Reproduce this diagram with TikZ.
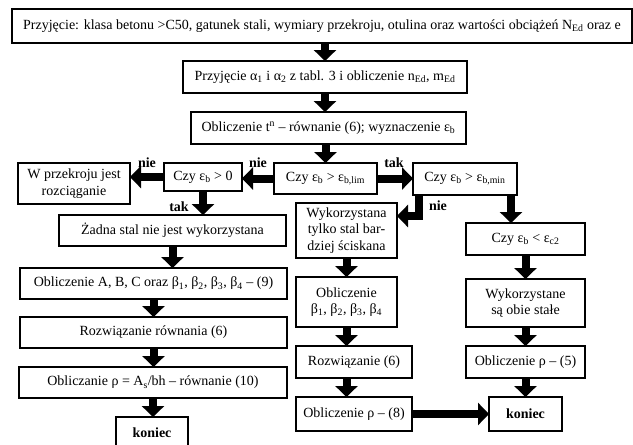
\documentclass[tikz,border=0pt]{standalone}
\usepackage{fontspec}
\setmainfont{Liberation Serif}
\usetikzlibrary{arrows.meta}
\tikzset{
  box/.style={draw, line width=1.7pt, inner sep=0pt, outer sep=0pt, align=center,
    font=\fontsize{14}{16.5}\selectfont},
  arr/.style={line width=8pt, line join=miter, -{Triangle[width=22pt,length=11pt]}},
  lbl/.style={font=\fontsize{14}{16.5}\selectfont\bfseries, inner sep=0pt}
}
\begin{document}
\begin{tikzpicture}[x=1pt,y=-1pt]
\useasboundingbox (0,0) rectangle (633,445);
% boxes
\node[box, minimum width=620pt, minimum height=34pt] (top) at (322,26)
  {Przyjęcie: klasa betonu >C50, gatunek stali, wymiary przekroju, otulina oraz wartości obciążeń N\textsubscript{Ed} oraz e};
\node[box, minimum width=284pt, minimum height=32pt] (b2) at (325,77)
  {Przyjęcie α\textsubscript{1} i α\textsubscript{2} z tabl. 3 i obliczenie n\textsubscript{Ed}, m\textsubscript{Ed}};
\node[box, minimum width=275pt, minimum height=32pt] (b3) at (328.5,128)
  {Obliczenie t\textsuperscript{n} – równanie (6); wyznaczenie ε\textsubscript{b}};
\node[box, minimum width=103pt, minimum height=31pt] (lim) at (325.5,178.5)
  {Czy ε\textsubscript{b} > ε\textsubscript{b,lim}};
\node[box, minimum width=78pt, minimum height=28pt] (gt0) at (203,177)
  {Czy ε\textsubscript{b} > 0};
\node[box, minimum width=112pt, minimum height=41pt] (rozc) at (74,183.5)
  {W przekroju jest\\rozciąganie};
\node[box, minimum width=104pt, minimum height=32pt] (min) at (465,179)
  {Czy ε\textsubscript{b} > ε\textsubscript{b,min}};
\node[box, minimum width=227pt, minimum height=31pt] (zadna) at (172.5,230.5)
  {Żadna stal nie jest wykorzystana};
\node[box, minimum width=267pt, minimum height=31pt] (abc) at (153.5,283.5)
  {Obliczenie A, B, C oraz β\textsubscript{1}, β\textsubscript{2}, β\textsubscript{3}, β\textsubscript{4} – (9)};
\node[box, minimum width=267pt, minimum height=31pt] (rozw) at (153.5,332.5)
  {Rozwiązanie równania (6)};
\node[box, minimum width=268pt, minimum height=31pt] (obl10) at (153,382.5)
  {Obliczanie ρ = A\textsubscript{s}/bh – równanie (10)};
\node[box, minimum width=72pt, minimum height=31pt] (kon1) at (152,432.5)
  {\bfseries koniec};
\node[box, minimum width=101pt, minimum height=55pt] (wyk) at (346.5,230.5)
  {Wykorzystana\\tylko stal bar-\\dziej ściskana};
\node[box, minimum width=101pt, minimum height=50pt] (beta) at (346.5,302)
  {Obliczenie\\β\textsubscript{1}, β\textsubscript{2}, β\textsubscript{3}, β\textsubscript{4}};
\node[box, minimum width=116pt, minimum height=32pt] (r6) at (354,362)
  {Rozwiązanie (6)};
\node[box, minimum width=116pt, minimum height=34pt] (r8) at (354,414)
  {Obliczenie ρ – (8)};
\node[box, minimum width=73pt, minimum height=34pt] (kon2) at (525.5,414)
  {\bfseries koniec};
\node[box, minimum width=119pt, minimum height=32pt] (ec2) at (525.5,239)
  {Czy ε\textsubscript{b} < ε\textsubscript{c2}};
\node[box, minimum width=119pt, minimum height=48pt] (obie) at (525.5,303)
  {Wykorzystane\\są obie stałe};
\node[box, minimum width=119pt, minimum height=32pt] (r5) at (525.5,362)
  {Obliczenie ρ – (5)};
% helper coordinates
\coordinate (bend) at (419,216);
\coordinate (m2) at (511,0);
% arrows
\draw[arr] (top.south -| b2.north) -- (b2.north);
\draw[arr] (b2.south) -- (b2.south |- b3.north);
\draw[arr] (b3.south -| lim.north) -- (lim.north);
\draw[arr] (lim.west) -- (lim.west -| gt0.east);
\draw[arr] (gt0.west) -- (gt0.west -| rozc.east);
\draw[arr] (lim.east) -- (lim.east -| min.west);
\draw[arr] (gt0.south) -- (gt0.south |- zadna.north);
\draw[arr] (zadna.south) -- (zadna.south |- abc.north);
\draw[arr] (abc.south) -- (rozw.north);
\draw[arr] (rozw.south) -- (rozw.south |- obl10.north);
\draw[arr] (obl10.south) -- (obl10.south |- kon1.north);
\draw[arr] (min.south -| bend) -- (bend) -- (bend -| wyk.east);
\draw[arr] (min.south -| m2) -- (m2 |- ec2.north);
\draw[arr] (wyk.south) -- (beta.north);
\draw[arr] (beta.south) -- (beta.south |- r6.north);
\draw[arr] (beta.south |- r6.south) -- (beta.south |- r8.north);
\draw[arr] (r8.east) -- (kon2.west);
\draw[arr] (ec2.south) -- (obie.north);
\draw[arr] (obie.south) -- (r5.north);
\draw[arr] (r5.south) -- (kon2.north);
% labels
\node[lbl] (l1) at (147,163) {nie};
\node[lbl] (l2) at (258,163) {nie};
\node[lbl] (l3) at (394,163) {tak};
\node[lbl] (l4) at (179,207) {tak};
\node[lbl] (l5) at (438,206) {nie};
\end{tikzpicture}
\end{document}
